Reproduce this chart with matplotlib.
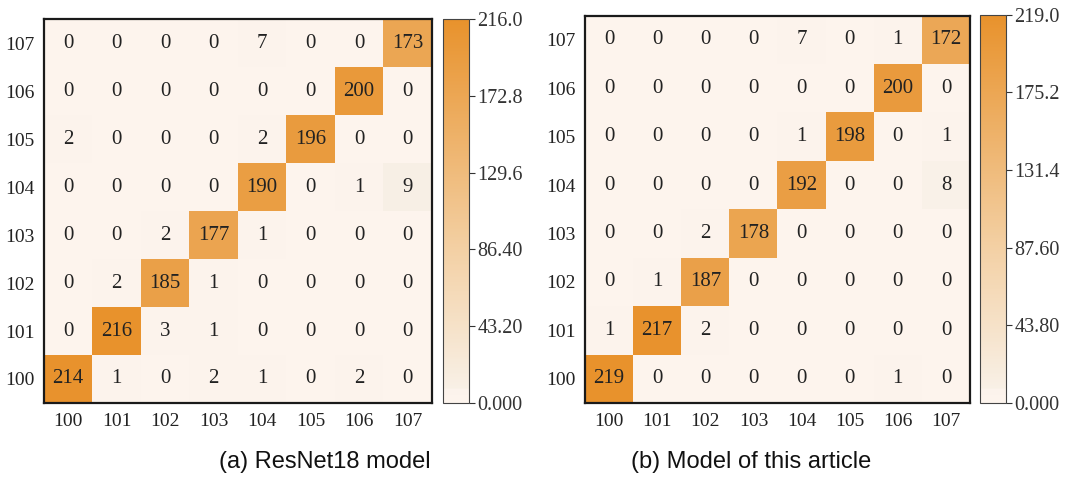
import numpy as np
import matplotlib.pyplot as plt
from matplotlib.colors import LinearSegmentedColormap

labels = ['100', '101', '102', '103', '104', '105', '106', '107']

# rows = true class 100..107, cols = predicted class 100..107
cm_resnet = [
    [214, 1, 0, 2, 1, 0, 2, 0],
    [0, 216, 3, 1, 0, 0, 0, 0],
    [0, 2, 185, 1, 0, 0, 0, 0],
    [0, 0, 2, 177, 1, 0, 0, 0],
    [0, 0, 0, 0, 190, 0, 1, 9],
    [2, 0, 0, 0, 2, 196, 0, 0],
    [0, 0, 0, 0, 0, 0, 200, 0],
    [0, 0, 0, 0, 7, 0, 0, 173],
]
cm_ours = [
    [219, 0, 0, 0, 0, 0, 1, 0],
    [1, 217, 2, 0, 0, 0, 0, 0],
    [0, 1, 187, 0, 0, 0, 0, 0],
    [0, 0, 2, 178, 0, 0, 0, 0],
    [0, 0, 0, 0, 192, 0, 0, 8],
    [0, 0, 0, 0, 1, 198, 0, 1],
    [0, 0, 0, 0, 0, 0, 200, 0],
    [0, 0, 0, 0, 7, 0, 1, 172],
]
captions = ['(a) ResNet18 model', '(b) Model of this article']

# near-flat at the very bottom, then a light->orange ramp
cmap = LinearSegmentedColormap.from_list('orange', [
    (0.0, '#fdf4ed'),
    (0.034, '#fcf3ec'),
    (0.036, '#f8f0e6'),
    (0.4, '#f3d0a4'),
    (1.0, '#e8922c'),
])
serif = 'Liberation Serif'

fig = plt.figure(figsize=(10.86, 4.84), dpi=100)

# [heatmap rect, colorbar rect, caption x]
layout = [
    ([0.0405, 0.1674, 0.357, 0.793], [0.408, 0.1674, 0.024, 0.793], 0.299),
    ([0.5387, 0.1674, 0.3545, 0.80], [0.9024, 0.1674, 0.024, 0.802], 0.692),
]

for cm, cap, (hrect, crect, cx) in zip([cm_resnet, cm_ours], captions, layout):
    cm = np.array(cm)
    vmax = cm.max()
    ax = fig.add_axes(hrect)
    im = ax.imshow(cm, cmap=cmap, vmin=0, vmax=vmax, origin='lower',
                   aspect='auto', interpolation='nearest')
    n = len(labels)
    for i in range(n):
        for j in range(n):
            ax.text(j, i, str(cm[i, j]), ha='center', va='center',
                    fontsize=15, family=serif, color='#222222')
    ax.set_xticks(range(n))
    ax.set_yticks(range(n))
    ax.set_xticklabels(labels, family=serif, fontsize=14)
    ax.set_yticklabels(labels, family=serif, fontsize=14)
    ax.tick_params(length=0, pad=7, colors='#222222')
    for s in ax.spines.values():
        s.set_linewidth(1.6)
        s.set_color('#1a1a1a')

    cax = fig.add_axes(crect)
    cb = fig.colorbar(im, cax=cax)
    ticks = np.linspace(0, vmax, 6)
    cb.set_ticks(ticks)
    cb.set_ticklabels(['%#.4g' % t for t in ticks])
    for t in cb.ax.get_yticklabels():
        t.set_family(serif)
        t.set_fontsize(14.5)
        t.set_color('#333333')
    cb.ax.tick_params(length=4, width=0.8, color='#333333', pad=2)
    cb.outline.set_linewidth(0.8)
    cb.outline.set_edgecolor('#444444')

    fig.text(cx, 0.045, cap, ha='center', va='center', fontsize=17,
             family='Liberation Sans', color='#111111')

fig.savefig('out.png', dpi=100)
